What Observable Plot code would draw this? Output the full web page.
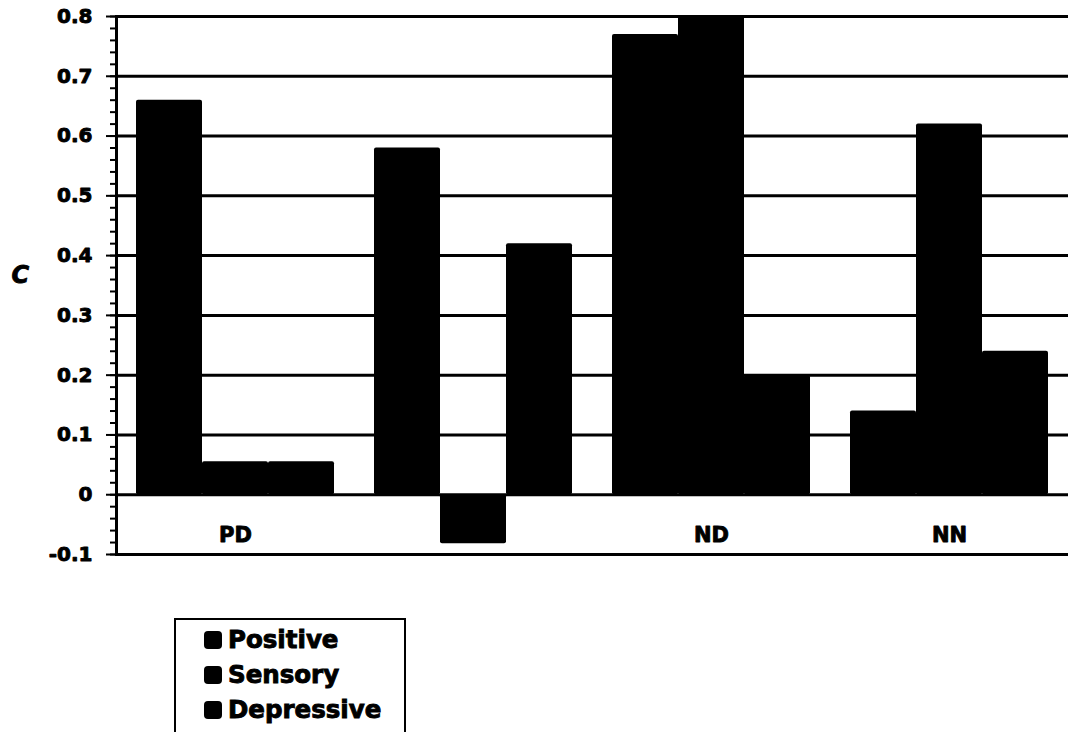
<!DOCTYPE html>
<html>
<head>
<meta charset="utf-8">
<script src="https://cdn.jsdelivr.net/npm/d3@7"></script>
<script src="https://cdn.jsdelivr.net/npm/@observablehq/plot@0.6"></script>
<style>
  html, body { margin: 0; padding: 0; background: #fff; }
  .legend {
    margin-left: 174px; margin-top: 18px; width: 228px;
    border: 2px solid #000; padding: 2px 0 8px 0;
    font-family: "DejaVu Sans", sans-serif; font-weight: bold; font-size: 24.5px;
    -webkit-text-stroke: 0.9px #000; color: #000;
  }
  .legend .item { display: flex; align-items: center; height: 35px; }
  .legend .sw { width: 18px; height: 18px; background: #000; border-radius: 4px; margin-left: 28px; margin-right: 6px; }
</style>
</head>
<body>
<div id="chart"></div>
<script>
const categories = ["PD", "PN", "ND", "NN"];
const categoryLabels = ["PD", "", "ND", "NN"];
const series = ["Positive", "Sensory", "Depressive"];
const positive = [0.66, 0.58, 0.77, 0.14];
const sensory = [0.055, -0.082, 0.83, 0.62];
const depressive = [0.055, 0.42, 0.20, 0.24];
const yTicks = [-0.1, 0, 0.1, 0.2, 0.3, 0.4, 0.5, 0.6, 0.7, 0.8];
const yTickLabels = ["-0.1", "0", "0.1", "0.2", "0.3", "0.4", "0.5", "0.6", "0.7", "0.8"];
const yLabel = "C";

const valuesBySeries = [positive, sensory, depressive];
const rows = [];
categories.forEach((c, i) => series.forEach((s, j) => rows.push({category: c, series: s, value: valuesBySeries[j][i]})));
const minorTicks = d3.range(0, 46).map(k => +(-0.1 + k * 0.02).toFixed(2));

const chart = Plot.plot({
  width: 1068,
  height: 600,
  marginTop: 16,
  marginBottom: 46,
  marginLeft: 116,
  marginRight: 0,
  style: {fontFamily: "'DejaVu Sans', sans-serif", color: "#000", background: "#fff"},
  fx: {domain: categories, padding: 0, axis: null},
  x: {domain: series, paddingInner: 0, paddingOuter: 0.28, axis: null},
  y: {domain: [-0.1, 0.8], axis: null},
  marks: [
    Plot.ruleY(yTicks, {stroke: "#000", strokeWidth: 3}),
    Plot.barY(rows, {fx: "category", x: "series", y: "value", fill: "#000", clip: true, rx: 2}),
    Plot.frame({anchor: "left", facetAnchor: "left", stroke: "#000", strokeWidth: 3}),
    Plot.axisY(minorTicks, {tickSize: 6, strokeWidth: 2, tickFormat: () => "", label: null}),
    Plot.axisY(yTicks, {tickSize: 10, strokeWidth: 2, tickPadding: 14, fontSize: 20, fontWeight: "bold",
      textStroke: "#000", textStrokeWidth: 0.9,
      tickFormat: d => yTickLabels[yTicks.indexOf(d)], label: null}),
    Plot.text(categories, {fx: d => d, text: (d, i) => categoryLabels[i], y: -0.0686,
      fontSize: 21, fontWeight: "bold", fill: "#000", stroke: "#000", strokeWidth: 0.9}),
    Plot.text([yLabel], {y: 0.367, frameAnchor: "left", dx: -105, textAnchor: "start", facetAnchor: "left",
      fontSize: 24, fontWeight: "bold", fontStyle: "italic", fill: "#000", stroke: "#000", strokeWidth: 0.9})
  ]
});
document.getElementById("chart").append(chart);

const legend = document.createElement("div");
legend.className = "legend";
series.forEach(s => {
  const item = document.createElement("div");
  item.className = "item";
  const sw = document.createElement("span");
  sw.className = "sw";
  const t = document.createElement("span");
  t.textContent = s;
  item.append(sw, t);
  legend.append(item);
});
document.body.append(legend);
</script>
</body>
</html>
